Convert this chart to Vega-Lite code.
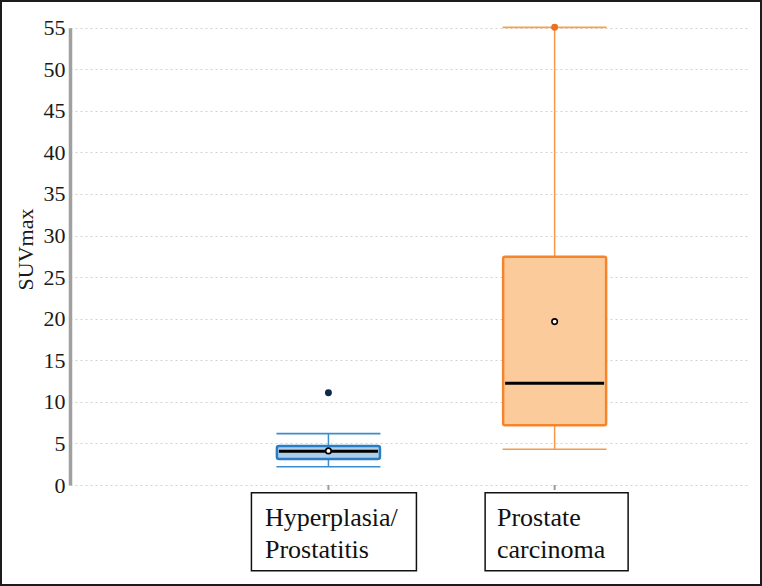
{
  "$schema": "https://vega.github.io/schema/vega-lite/v6.json",
  "width": 762,
  "height": 586,
  "autosize": "none",
  "padding": 0,
  "background": "white",
  "config": {"view": {"stroke": "#1c1c1c", "strokeWidth": 4}, "font": "Liberation Serif"},
  "datasets": {
    "stats": [
      {"group": "Hyperplasia/Prostatitis", "label": "Hyperplasia/\nProstatitis", "lower": 2.2, "q1": 3.13, "median": 4.05, "q3": 4.69, "upper": 6.17, "mean": 4.1},
      {"group": "Prostate carcinoma", "label": "Prostate\ncarcinoma", "lower": 4.3, "q1": 7.2, "median": 12.25, "q3": 27.45, "upper": 55.05, "mean": 19.65}
    ],
    "outliers": [
      {"group": "Hyperplasia/Prostatitis", "value": 11.1},
      {"group": "Prostate carcinoma", "value": 55.05}
    ]
  },
  "data": {"name": "stats"},
  "encoding": {
    "x": {"field": "group", "type": "nominal", "sort": null, "scale": {"type": "point", "range": [70, 748], "padding": 0.9987, "align": 0.572}, "axis": null}
  },
  "layer": [
    {
      "mark": {"type": "rule", "strokeWidth": 1.5},
      "encoding": {
        "y": {"field": "lower", "type": "quantitative",
          "scale": {"domain": [0, 55], "range": [485, 27.7], "nice": false, "zero": false},
          "axis": {"title": "SUVmax", "values": [0, 5, 10, 15, 20, 25, 30, 35, 40, 45, 50, 55], "offset": -70,
            "domain": true, "domainColor": "#a0a0a0", "domainWidth": 3.5, "ticks": false, "tickSize": 0,
            "grid": true, "gridColor": "#d2d2d2", "gridDash": [2, 3], "gridWidth": 1,
            "labelFont": "Liberation Serif", "labelFontSize": 22, "labelColor": "#1a1a1a", "labelPadding": 5,
            "titleFont": "Liberation Serif", "titleFontSize": 22, "titleFontWeight": "normal", "titleColor": "#1a1a1a",
            "titleX": -45, "titleY": 249, "titleAngle": -90, "titleBaseline": "middle", "titleAlign": "center"}},
        "y2": {"field": "upper"},
        "color": {"condition": {"test": "datum.group === 'Prostate carcinoma'", "value": "#f59a4a"}, "value": "#3c8dd0"}
      }
    },
    {
      "mark": {"type": "tick", "orient": "horizontal", "size": 104, "thickness": 1.6, "opacity": 1},
      "encoding": {
        "y": {"field": "lower", "type": "quantitative"},
        "color": {"condition": {"test": "datum.group === 'Prostate carcinoma'", "value": "#f59a4a"}, "value": "#3c8dd0"}
      }
    },
    {
      "mark": {"type": "tick", "orient": "horizontal", "size": 104, "thickness": 1.8, "opacity": 1},
      "encoding": {
        "y": {"field": "upper", "type": "quantitative"},
        "color": {"condition": {"test": "datum.group === 'Prostate carcinoma'", "value": "#f6a14e"}, "value": "#3c8dd0"}
      }
    },
    {
      "mark": {"type": "bar", "width": 103, "strokeWidth": 2.5, "cornerRadius": 2, "opacity": 1},
      "encoding": {
        "y": {"field": "q1", "type": "quantitative"},
        "y2": {"field": "q3"},
        "fill": {"condition": {"test": "datum.group === 'Prostate carcinoma'", "value": "#fccb9c"}, "value": "#aecfec"},
        "stroke": {"condition": {"test": "datum.group === 'Prostate carcinoma'", "value": "#f5842a"}, "value": "#2a7dc2"}
      }
    },
    {
      "mark": {"type": "tick", "orient": "horizontal", "size": 99, "thickness": 3, "color": "#000000", "opacity": 1},
      "encoding": {"y": {"field": "median", "type": "quantitative"}}
    },
    {
      "mark": {"type": "point", "filled": true, "fill": "#ffffff", "stroke": "#000000", "strokeWidth": 1.6, "size": 30, "opacity": 1},
      "encoding": {"y": {"field": "mean", "type": "quantitative"}}
    },
    {
      "data": {"name": "outliers"},
      "mark": {"type": "point", "filled": true, "opacity": 1, "size": 48},
      "encoding": {
        "y": {"field": "value", "type": "quantitative"},
        "color": {"condition": {"test": "datum.group === 'Prostate carcinoma'", "value": "#f06f1e"}, "value": "#0d2a4d"}
      }
    },
    {
      "mark": {"type": "rule", "stroke": "#9a9a9a", "strokeWidth": 2},
      "encoding": {"y": {"datum": 0}, "y2": {"datum": -0.6}}
    },
    {
      "transform": [{"filter": "datum.group === 'Hyperplasia/Prostatitis'"}],
      "mark": {"type": "bar", "width": 165, "fill": "#ffffff", "stroke": "#111111", "strokeWidth": 1.5},
      "encoding": {"y": {"datum": -0.93}, "y2": {"datum": -10.3}, "xOffset": {"value": 5.5}}
    },
    {
      "transform": [{"filter": "datum.group === 'Prostate carcinoma'"}],
      "mark": {"type": "bar", "width": 143, "fill": "#ffffff", "stroke": "#111111", "strokeWidth": 1.5},
      "encoding": {"y": {"datum": -0.93}, "y2": {"datum": -10.3}, "xOffset": {"value": 2}}
    },
    {
      "transform": [{"filter": "datum.group === 'Hyperplasia/Prostatitis'"}],
      "mark": {"type": "text", "align": "left", "baseline": "alphabetic", "dx": -63.5, "font": "Liberation Serif", "fontSize": 26, "lineHeight": 32, "lineBreak": "\n", "color": "#111111"},
      "encoding": {"y": {"datum": -4.93}, "text": {"field": "label", "type": "nominal"}}
    },
    {
      "transform": [{"filter": "datum.group === 'Prostate carcinoma'"}],
      "mark": {"type": "text", "align": "left", "baseline": "alphabetic", "dx": -57.7, "font": "Liberation Serif", "fontSize": 26, "lineHeight": 32, "lineBreak": "\n", "color": "#111111"},
      "encoding": {"y": {"datum": -4.93}, "text": {"field": "label", "type": "nominal"}}
    }
  ]
}
